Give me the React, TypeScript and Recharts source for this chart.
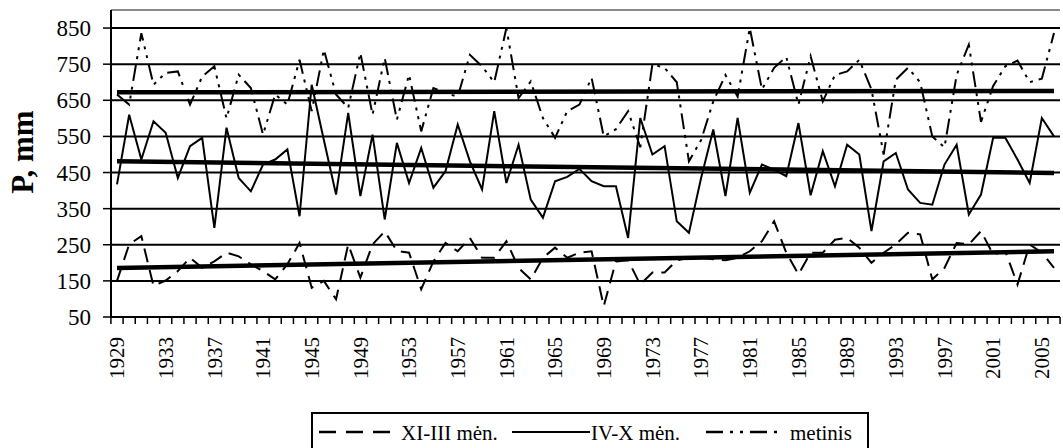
import React from 'react';
import { LineChart, Line, XAxis, YAxis, CartesianGrid, ReferenceLine } from 'recharts';

const years = [
  1929, 1930, 1931, 1932, 1933, 1934, 1935, 1936, 1937, 1938,
  1939, 1940, 1941, 1942, 1943, 1944, 1945, 1946, 1947, 1948,
  1949, 1950, 1951, 1952, 1953, 1954, 1955, 1956, 1957, 1958,
  1959, 1960, 1961, 1962, 1963, 1964, 1965, 1966, 1967, 1968,
  1969, 1970, 1971, 1972, 1973, 1974, 1975, 1976, 1977, 1978,
  1979, 1980, 1981, 1982, 1983, 1984, 1985, 1986, 1987, 1988,
  1989, 1990, 1991, 1992, 1993, 1994, 1995, 1996, 1997, 1998,
  1999, 2000, 2001, 2002, 2003, 2004, 2005, 2006,
];

const xiIII = [
  150, 251, 274, 136, 151, 177, 214, 186, 204, 228,
  218, 196, 177, 154, 196, 255, 131, 150, 99, 251,
  159, 251, 287, 233, 228, 127, 204, 255, 232, 269,
  214, 214, 260, 186, 154, 214, 242, 214, 228, 232,
  80, 204, 207, 140, 173, 173, 207, 214, 214, 210,
  207, 214, 232, 260, 315, 228, 168, 228, 228, 264,
  269, 242, 200, 228, 251, 283, 279, 154, 186, 255,
  251, 288, 223, 232, 140, 251, 228, 186,
];

const ivX = [
  417, 610, 486, 592, 560, 435, 523, 546, 297, 574,
  435, 398, 472, 486, 514, 329, 693, 540, 389, 615,
  385, 555, 320, 532, 421, 518, 408, 454, 583, 481,
  403, 620, 421, 527, 375, 325, 426, 438, 460, 426,
  412, 412, 269, 601, 500, 523, 315, 283, 435, 569,
  385, 601, 394, 472, 458, 440, 587, 387, 509, 412,
  527, 500, 288, 481, 504, 403, 366, 361, 472, 527,
  334, 389, 546, 546, 486, 421, 601, 550,
];

const metinis = [
  666, 638, 836, 693, 726, 730, 638, 716, 744, 600,
  721, 684, 555, 666, 638, 762, 620, 790, 666, 629,
  781, 610, 767, 596, 721, 564, 684, 670, 660, 776,
  744, 700, 850, 656, 702, 601, 546, 620, 638, 712,
  550, 570, 620, 520, 750, 740, 700, 481, 540, 647,
  720, 660, 850, 680, 740, 770, 638, 772, 647, 720,
  730, 762, 680, 500, 707, 740, 700, 550, 520, 720,
  804, 590, 690, 744, 760, 700, 710, 836,
];

const yTicks = [50, 150, 250, 350, 450, 550, 650, 750, 850];

const trendYears = [1929, 2006];
const trendXIIII = [186, 232];
const trendIVX = [481, 449];
const trendMetinis = [672, 676];

const seriesNames = ['XI-III mėn.', 'IV-X mėn.', 'metinis'];

const data = years.map((year, i) => ({
  year,
  xi: xiIII[i],
  iv: ivX[i],
  met: metinis[i],
}));

const FONT = "'Liberation Serif', 'Times New Roman', Times, 'DejaVu Serif', 'Noto Serif', serif";
const STEP = 937 / 77;
const DASH_XI = '14 8';
const DASH_MET = '16 6 3 6 3 6';

function XTick(props: any) {
  const { x, y, index, payload } = props;
  const half = STEP / 2;
  const ty = y + 20;
  return (
    <g>
      <line x1={x - half} y1={y} x2={x - half} y2={y + 7} stroke="#000" strokeWidth={1.5} />
      {index === years.length - 1 && (
        <line x1={x + half} y1={y} x2={x + half} y2={y + 7} stroke="#000" strokeWidth={1.5} />
      )}
      {index % 4 === 0 && (
        <text
          x={x}
          y={ty}
          transform={`rotate(-90 ${x} ${ty})`}
          textAnchor="end"
          dy="0.35em"
          style={{ fontFamily: FONT, fontSize: 21 }}
          fill="#000"
        >
          {payload.value}
        </text>
      )}
    </g>
  );
}

function YTick(props: any) {
  const { x, y, payload } = props;
  return (
    <text
      x={x}
      y={y}
      textAnchor="end"
      dy="0.35em"
      style={{ fontFamily: FONT, fontSize: 23 }}
      fill="#000"
    >
      {payload.value}
    </text>
  );
}

function YLabel() {
  return (
    <text
      x={22}
      y={152}
      transform="rotate(-90 22 152)"
      textAnchor="middle"
      dy="0.35em"
      style={{ fontFamily: FONT, fontWeight: 'bold', fontSize: 31 }}
      fill="#000"
    >
      P, mm
    </text>
  );
}

function LegendBox() {
  const ts = { fontFamily: FONT, fontSize: 21 };
  return (
    <svg
      width={562}
      height={36}
      style={{ position: 'absolute', left: 310, top: 412 }}
    >
      <rect x={2} y={1} width={556} height={44} fill="#fff" stroke="#000" strokeWidth={2} />
      <line x1={9} y1={20} x2={80} y2={20} stroke="#000" strokeWidth={2.5} strokeDasharray="17 10" />
      <text x={91} y={28} style={ts} fill="#000">{seriesNames[0]}</text>
      <line x1={202} y1={20} x2={280} y2={20} stroke="#000" strokeWidth={2} />
      <text x={281} y={28} style={ts} fill="#000">{seriesNames[1]}</text>
      <line x1={396} y1={20} x2={469} y2={20} stroke="#000" strokeWidth={2.5} strokeDasharray="17 7 3 7 3 7" />
      <text x={480} y={28} style={ts} fill="#000">{seriesNames[2]}</text>
    </svg>
  );
}

export default function App() {
  return (
    <div
      style={{
        position: 'absolute',
        left: 0,
        top: 0,
        width: 1063,
        height: 448,
        background: '#fff',
        overflow: 'hidden',
        fontFamily: FONT,
      }}
    >
      <LineChart
        width={1063}
        height={448}
        data={data}
        margin={{ top: 10, right: 3, bottom: 61, left: 0 }}
      >
        <CartesianGrid vertical={false} stroke="#000" strokeWidth={2} />
        <ReferenceLine y={900} stroke="#8a8a8a" strokeWidth={2} />
        <XAxis
          dataKey="year"
          type="category"
          interval={0}
          tick={<XTick />}
          tickLine={false}
          tickSize={0}
          tickMargin={0}
          height={70}
          padding={{ left: 6, right: 6 }}
          axisLine={{ stroke: '#000', strokeWidth: 2 }}
        />
        <YAxis
          width={111}
          domain={[50, 900]}
          ticks={yTicks}
          interval={0}
          tickSize={8}
          tickMargin={12}
          tick={<YTick />}
          tickLine={{ stroke: '#000', strokeWidth: 1.5 }}
          axisLine={{ stroke: '#000', strokeWidth: 2 }}
          label={() => <YLabel />}
        />
        <Line
          type="linear"
          dataKey="xi"
          name={seriesNames[0]}
          stroke="#000"
          strokeWidth={2}
          strokeDasharray={DASH_XI}
          dot={false}
          isAnimationActive={false}
        />
        <Line
          type="linear"
          dataKey="iv"
          name={seriesNames[1]}
          stroke="#000"
          strokeWidth={2}
          dot={false}
          isAnimationActive={false}
        />
        <Line
          type="linear"
          dataKey="met"
          name={seriesNames[2]}
          stroke="#000"
          strokeWidth={2}
          strokeDasharray={DASH_MET}
          dot={false}
          isAnimationActive={false}
        />
        <ReferenceLine
          segment={[
            { x: trendYears[0], y: trendXIIII[0] },
            { x: trendYears[1], y: trendXIIII[1] },
          ]}
          stroke="#000"
          strokeWidth={4.5}
        />
        <ReferenceLine
          segment={[
            { x: trendYears[0], y: trendIVX[0] },
            { x: trendYears[1], y: trendIVX[1] },
          ]}
          stroke="#000"
          strokeWidth={4.5}
        />
        <ReferenceLine
          segment={[
            { x: trendYears[0], y: trendMetinis[0] },
            { x: trendYears[1], y: trendMetinis[1] },
          ]}
          stroke="#000"
          strokeWidth={4.5}
        />
      </LineChart>
      <LegendBox />
    </div>
  );
}
